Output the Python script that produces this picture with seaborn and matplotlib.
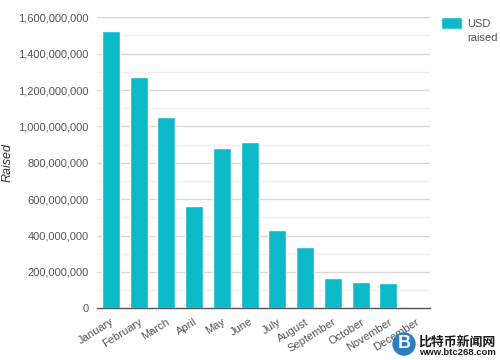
import matplotlib
matplotlib.use('Agg')
import matplotlib.pyplot as plt
from matplotlib.patches import Circle
from matplotlib.ticker import FuncFormatter, MultipleLocator
import pandas as pd
import seaborn as sns

months = ['January', 'February', 'March', 'April', 'May', 'June', 'July',
          'August', 'September', 'October', 'November', 'December']
usd_raised = [1525000000, 1272000000, 1050000000, 561000000, 884000000, 914000000,
              433000000, 337000000, 168000000, 146000000, 137000000, 0]
series_name = 'USD\nraised'
y_label = 'Raised'
wm_cn = '比特币新闻网'
wm_url = 'www.btc268.com'

sns.set_theme(style='white')
plt.rcParams['font.family'] = ['Liberation Sans', 'Noto Sans CJK SC', 'DejaVu Sans']

df = pd.DataFrame({'month': months, 'usd': usd_raised})

fig = plt.figure(figsize=(5, 3.6), dpi=100)
ax = fig.add_axes([97 / 500, 1 - 308.3 / 360, 333 / 500, 291 / 360])

sns.barplot(data=df, x='month', y='usd', color='#0cb9c9', saturation=1, width=0.65,
            label=series_name, ax=ax, legend=False)

ax.set_ylim(0, 1600000000)
ax.yaxis.set_major_locator(MultipleLocator(200000000))
ax.yaxis.set_minor_locator(MultipleLocator(100000000))
ax.yaxis.set_major_formatter(FuncFormatter(lambda v, pos: f'{int(v):,}'))

# gridlines behind the bars, minor ones are fainter
ax.set_axisbelow(True)
ax.grid(True, axis='y', which='major', color='#d8d8d8', linewidth=1.0)
ax.grid(True, axis='y', which='minor', color='#efefef', linewidth=0.9)
ax.grid(False, axis='x')

for s in ['top', 'right', 'left']:
    ax.spines[s].set_visible(False)
ax.spines['bottom'].set_color('#555555')
ax.spines['bottom'].set_linewidth(1.0)

ax.tick_params(axis='y', which='both', left=False, length=0, labelsize=8, labelcolor='#555555', pad=5.8)
ax.tick_params(axis='x', bottom=False, length=0, labelsize=8, labelcolor='#555555', pad=6)
plt.setp(ax.get_xticklabels(), rotation=32, ha='right', rotation_mode='anchor')

ax.set_xlabel('')
ax.set_ylabel('')
fig.text(8 / 500, 1 - 163 / 360, y_label, rotation=90, style='italic', fontsize=9,
         color='#333333', ha='center', va='center')

h, l = ax.get_legend_handles_labels()
leg = fig.legend(h, l, loc='upper left', bbox_to_anchor=(441 / 500, 1 - 19 / 360), frameon=False,
                 fontsize=8, labelcolor='#555555', handlelength=1.9, handleheight=1.3,
                 handletextpad=0.45, borderpad=0, borderaxespad=0)
leg.get_texts()[0].set_linespacing(1.45)
# swatch sits level with the first line of the label
patch = leg.get_patches()[0]
patch.set_y(patch.get_y() + 6)

# watermark, bottom right
logo = Circle((404, 360 - 344), 11.7, transform=None, facecolor='#2a7fc4', edgecolor='none', zorder=5)
fig.add_artist(logo)
fig.text(404 / 500, 1 - 344 / 360, 'B', color='white', fontsize=13, fontweight='bold',
         ha='center', va='center', zorder=6)
fig.text(418 / 500, 1 - 346 / 360, wm_cn, color='#1c1c1c', fontsize=9.3, fontweight='bold',
         ha='left', va='baseline', zorder=6)
fig.text(419 / 500, 1 - 355 / 360, wm_url, color='#1c1c1c', fontsize=6.8, fontweight='bold',
         ha='left', va='baseline', zorder=6)

fig.savefig('out.png', dpi=100)
